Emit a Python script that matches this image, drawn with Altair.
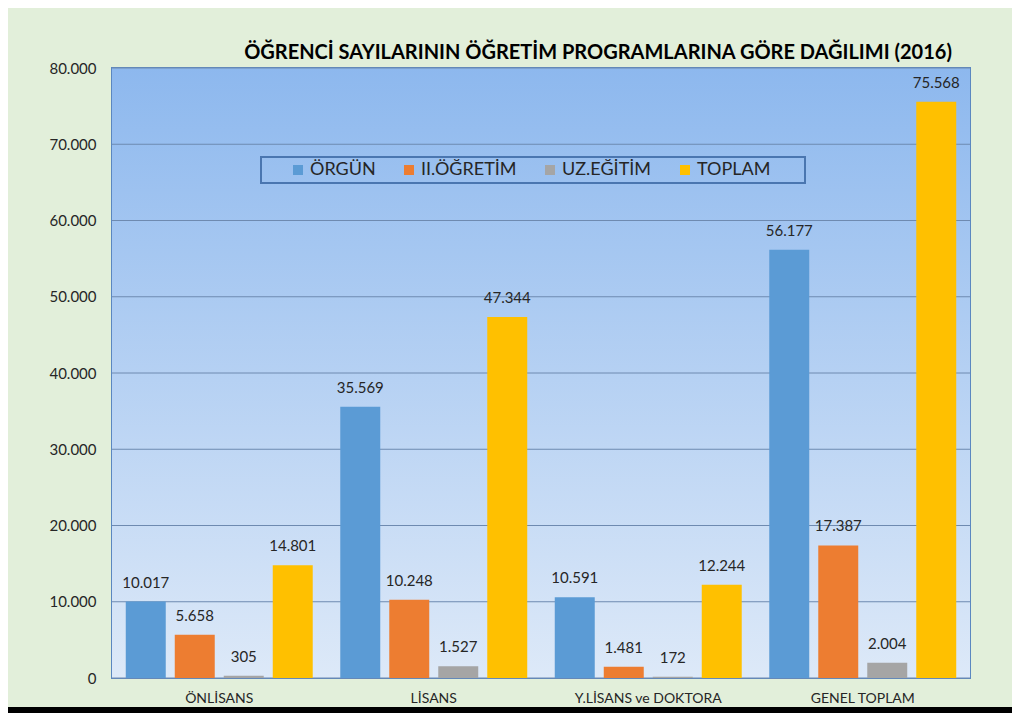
import altair as alt
import pandas as pd

categories = ["ÖNLİSANS", "LİSANS", "Y.LİSANS ve DOKTORA", "GENEL TOPLAM"]
series = ["ÖRGÜN", "II.ÖĞRETİM", "UZ.EĞİTİM", "TOPLAM"]
orgun = [10017, 35569, 10591, 56177]
ikinci = [5658, 10248, 1481, 17387]
uzaktan = [305, 1527, 172, 2004]
toplam = [14801, 47344, 12244, 75568]
colors = ["#5B9BD5", "#ED7D31", "#A5A5A5", "#FFC000"]
y_ticks = [0, 10000, 20000, 30000, 40000, 50000, 60000, 70000, 80000]
title_text = "ÖĞRENCİ SAYILARININ ÖĞRETİM PROGRAMLARINA GÖRE DAĞILIMI (2016)"

rows = []
for s, vals in zip(series, [orgun, ikinci, uzaktan, toplam]):
    for c, v in zip(categories, vals):
        rows.append({"cat": c, "series": s, "value": v})
df = pd.DataFrame(rows)

W, H = 858, 610
FONT = "Lato"

base = alt.Chart(df).transform_calculate(
    label="replace(format(datum.value, ',d'), ',', '.')"
)

y_scale = alt.Scale(domain=[0, 80000], nice=False)

x_enc = alt.X("cat:N", sort=categories,
              scale=alt.Scale(paddingInner=0, paddingOuter=0),
              axis=alt.Axis(title=None, labelAngle=0, domain=False, ticks=False,
                            labelPadding=13, labelFontSize=14, labelFont=FONT,
                            labelColor="#262626"))
xo_enc = alt.XOffset("series:N", sort=series,
                     scale=alt.Scale(paddingInner=0.184, paddingOuter=0.281))
y_enc = alt.Y("value:Q", scale=y_scale,
              axis=alt.Axis(title=None, values=y_ticks, domain=False, ticks=False,
                            grid=False,
                            labelPadding=16, labelFontSize=15, labelFont=FONT,
                            labelColor="#262626",
                            labelExpr="replace(format(datum.value, ',d'), ',', '.')"))

one = pd.DataFrame({"k": [0]})

plot_bg = alt.Chart(one).mark_rect(
    fill=alt.LinearGradient(gradient="linear", x1=0, y1=0, x2=0, y2=1,
                            stops=[alt.GradientStop(offset=0, color="#8DB8EE"),
                                   alt.GradientStop(offset=1, color="#DDE9F8")])
).encode(x=alt.value(0), x2=alt.value(W), y=alt.value(0), y2=alt.value(H))

grid = alt.Chart(pd.DataFrame({"t": y_ticks})).mark_rule(
    color="#6E8AB0", strokeWidth=1
).encode(y=alt.Y("t:Q", scale=y_scale))

bars = base.mark_bar().encode(
    x=x_enc,
    xOffset=xo_enc,
    y=y_enc,
    color=alt.Color("series:N", sort=series,
                    scale=alt.Scale(domain=series, range=colors),
                    legend=alt.Legend(title=None, orient="none", direction="horizontal",
                                      legendX=177, legendY=93, padding=0,
                                      columnPadding=24, labelOffset=3,
                                      symbolType="square", symbolSize=100,
                                      symbolStrokeWidth=0, labelFontSize=18,
                                      labelFont=FONT, labelColor="#262626")),
)

labels = base.mark_text(baseline="bottom", dy=-11, fontSize=15, font=FONT,
                        color="#262626").encode(
    x=alt.X("cat:N", sort=categories),
    xOffset=alt.XOffset("series:N", sort=series),
    y="value:Q",
    text="label:N",
)

legend_box = alt.Chart(one).mark_rect(fill=None, stroke="#4A76B0", strokeWidth=2).encode(
    x=alt.value(149), x2=alt.value(693), y=alt.value(89), y2=alt.value(115)
)
bottom_strip = alt.Chart(one).mark_rect(fill="black").encode(
    x=alt.value(-104), x2=alt.value(900), y=alt.value(639), y2=alt.value(646)
)

chart = alt.layer(plot_bg, grid, bars, labels, legend_box, bottom_strip).properties(
    width=W, height=H,
    title=alt.TitleParams(title_text, font=FONT, fontSize=20, fontWeight="bold",
                          color="#000000", anchor="middle", frame="group",
                          dx=57, dy=10, offset=8),
    autosize=alt.AutoSizeParams(type="none"),
    padding={"left": 104, "top": 60, "right": 42, "bottom": 35},
    background="#E2EFDA",
).configure_view(
    stroke="#5B87C0", strokeWidth=2,
)

chart.save("out.html", embed_options={"renderer": "svg", "actions": False})
